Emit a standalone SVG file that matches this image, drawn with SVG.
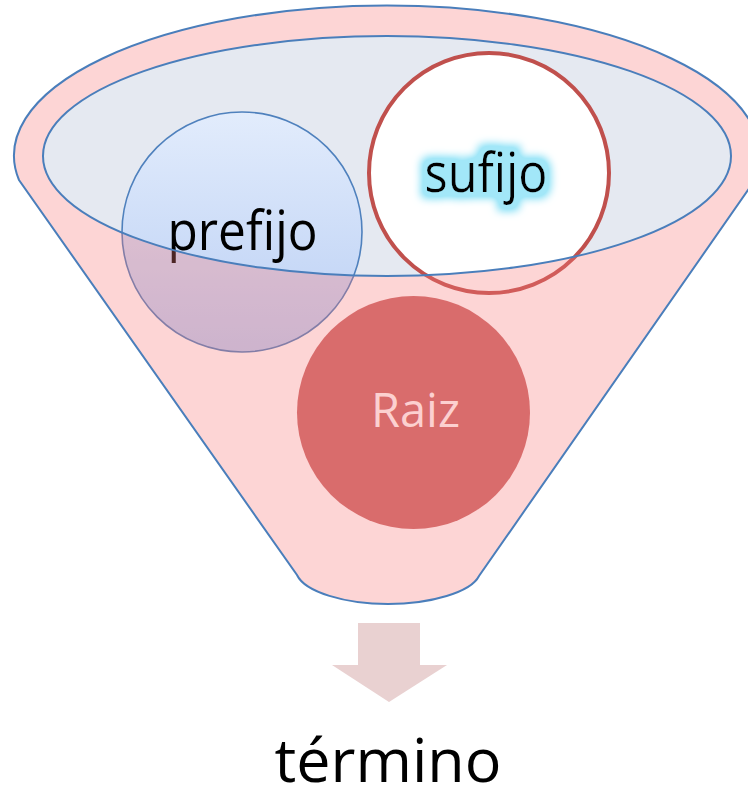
<svg xmlns="http://www.w3.org/2000/svg" width="748" height="796" viewBox="0 0 748 796">
  <defs>
    <linearGradient id="gBlue" x1="0" y1="0" x2="0" y2="1">
      <stop offset="0" stop-color="#E2ECFC"/>
      <stop offset="1" stop-color="#BACFF4"/>
    </linearGradient>
    <filter id="glow" x="-30%" y="-50%" width="160%" height="200%">
      <feMorphology in="SourceAlpha" operator="dilate" radius="6" result="d"/>
      <feGaussianBlur in="d" stdDeviation="4" result="b"/>
      <feComponentTransfer in="b" result="b2">
        <feFuncA type="linear" slope="1.5"/>
      </feComponentTransfer>
      <feFlood flood-color="#A2E7F8"/>
      <feComposite in2="b2" operator="in" result="g"/>
      <feMerge>
        <feMergeNode in="g"/>
        <feMergeNode in="SourceGraphic"/>
      </feMerge>
    </filter>
  </defs>
  <style>
    .outline { fill: none; stroke: #4A7EBB; stroke-width: 2; }
    .lbl { font-family: "Open Sans", "Liberation Sans", sans-serif; text-anchor: middle; }
  </style>

  <g id="funnel">
    <path id="funnel-base" d="M19,180 A373,150 0 1 1 755,180 L479,576 C471,592 431,604 388,604 C345,604 305,592 297,575 Z" fill="#FFFFFF"/>
    <ellipse id="funnel-mouth" cx="387" cy="156" rx="344" ry="120" fill="#E5E9F1"/>
  </g>

  <g id="prefijo">
    <circle cx="242" cy="232" r="120" fill="url(#gBlue)" stroke="#4F81BD" stroke-width="1.6"/>
    <text class="lbl" x="242.5" y="250" font-size="54" textLength="150" lengthAdjust="spacingAndGlyphs" fill="#000">prefijo</text>
  </g>

  <g id="sufijo">
    <circle cx="489" cy="173" r="120" fill="#FFFFFF" stroke="#C0504D" stroke-width="4"/>
    <text class="lbl" x="486" y="192" font-size="54" textLength="123" lengthAdjust="spacingAndGlyphs" fill="#000" filter="url(#glow)">sufijo</text>
  </g>

  <path id="funnel-tint" fill-rule="evenodd" fill="rgb(248,119,119)" fill-opacity="0.31"
        d="M19,180 A373,150 0 1 1 755,180 L479,576 C471,592 431,604 388,604 C345,604 305,592 297,575 Z
           M43,156 A344,120 0 1 0 731,156 A344,120 0 1 0 43,156 Z"/>

  <g id="raiz">
    <circle cx="413.5" cy="412.5" r="116.5" fill="#D96C6C"/>
    <text class="lbl" x="415.5" y="427" font-size="47" fill="#FCD0D0">Raiz</text>
  </g>

  <g id="connectors">
    <path class="outline" d="M19,180 A373,150 0 1 1 755,180 L479,576 C471,592 431,604 388,604 C345,604 305,592 297,575 Z"/>
    <ellipse class="outline" cx="387" cy="156" rx="344" ry="120"/>
    <polygon id="arrow" points="358,623 420,623 420,665 447,665 389,702 332,665 358,665" fill="#E9D1D1"/>
  </g>

  <g id="termino">
    <text class="lbl" x="388" y="782" font-size="61" fill="#000">término</text>
  </g>
</svg>
